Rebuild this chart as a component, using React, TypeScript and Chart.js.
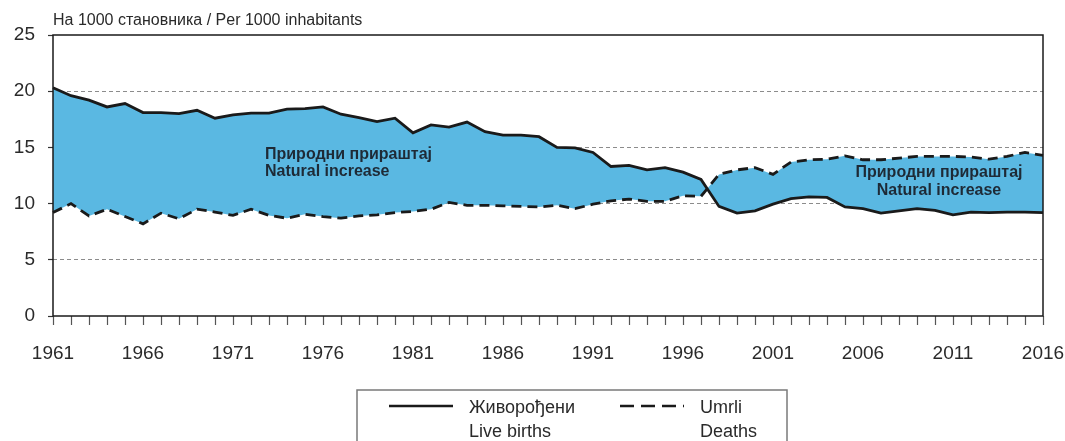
import React, { useEffect, useRef } from "react";
import { Chart, registerables } from "chart.js";

Chart.register(...registerables);

const years: string[] = [];
for (let y = 1961; y <= 2016; y++) years.push(String(y));

const liveBirths = [
  20.3, 19.6, 19.2, 18.6, 18.9, 18.1, 18.1, 18.0, 18.3, 17.6,
  17.9, 18.05, 18.05, 18.4, 18.45, 18.6, 17.95, 17.65, 17.3, 17.6,
  16.3, 17.0, 16.8, 17.25, 16.4, 16.1, 16.1, 15.95, 15.0, 14.95,
  14.55, 13.3, 13.4, 13.0, 13.2, 12.8, 12.15, 9.75, 9.15, 9.35,
  9.95, 10.45, 10.6, 10.55, 9.7, 9.55, 9.15, 9.35, 9.55, 9.4,
  9.0, 9.25, 9.2, 9.25, 9.25, 9.2,
];

const deaths = [
  9.2, 10.0, 8.9, 9.5, 8.85, 8.2, 9.15, 8.65, 9.5, 9.25,
  8.95, 9.5, 8.95, 8.7, 9.05, 8.85, 8.7, 8.9, 9.0, 9.2,
  9.3, 9.5, 10.1, 9.85, 9.85, 9.8, 9.75, 9.7, 9.85, 9.55,
  9.95, 10.25, 10.4, 10.2, 10.2, 10.7, 10.65, 12.6, 13.0, 13.2,
  12.6, 13.7, 13.9, 13.95, 14.25, 13.9, 13.9, 14.05, 14.2, 14.2,
  14.2, 14.15, 13.95, 14.2, 14.55, 14.3,
];

const yTicks = [0, 5, 10, 15, 20, 25];
const unitTitle = "На 1000 становника / Per 1000 inhabitants";
const increaseLabel = ["Природни прираштај", "Natural increase"];
const birthsLegend = ["Живорођени", "Live births"];
const deathsLegend = ["Umrli", "Deaths"];

const FONT = '"Liberation Sans", Arial, sans-serif';
const FILL = "rgb(90,184,226)";

const decorPlugin = {
  id: "decor",
  afterDraw(chart: any) {
    const { ctx, chartArea } = chart;
    const { left, right, top, bottom } = chartArea;
    ctx.save();
    // frame
    ctx.strokeStyle = "#1a1a1a";
    ctx.lineWidth = 1.5;
    ctx.setLineDash([]);
    ctx.strokeRect(left, top, right - left, bottom - top);

    // unit title
    ctx.fillStyle = "#2a2a2a";
    ctx.font = `16px ${FONT}`;
    ctx.textAlign = "left";
    ctx.textBaseline = "alphabetic";
    ctx.fillText(unitTitle, left, 25);

    // annotations
    ctx.fillStyle = "#1e2a36";
    ctx.font = `bold 16px ${FONT}`;
    ctx.textBaseline = "middle";
    ctx.textAlign = "left";
    ctx.fillText(increaseLabel[0], 265, 155);
    ctx.fillText(increaseLabel[1], 265, 172);
    ctx.textAlign = "center";
    ctx.fillText(increaseLabel[0], 939, 173);
    ctx.fillText(increaseLabel[1], 939, 191);

    // legend
    ctx.strokeStyle = "#7a7a7a";
    ctx.lineWidth = 1.5;
    ctx.strokeRect(357, 390, 430, 70);
    ctx.strokeStyle = "#1a1a1a";
    ctx.lineWidth = 2.5;
    ctx.beginPath();
    ctx.moveTo(389, 406);
    ctx.lineTo(453, 406);
    ctx.stroke();
    ctx.setLineDash([14, 7]);
    ctx.beginPath();
    ctx.moveTo(620, 406);
    ctx.lineTo(684, 406);
    ctx.stroke();
    ctx.setLineDash([]);
    ctx.fillStyle = "#2a2a2a";
    ctx.font = `18px ${FONT}`;
    ctx.textAlign = "left";
    ctx.textBaseline = "middle";
    ctx.fillText(birthsLegend[0], 469, 408);
    ctx.fillText(birthsLegend[1], 469, 432);
    ctx.fillText(deathsLegend[0], 700, 408);
    ctx.fillText(deathsLegend[1], 700, 432);
    ctx.restore();
  },
};

export default function App() {
  const ref = useRef<HTMLCanvasElement | null>(null);
  useEffect(() => {
    if (!ref.current) return;
    const chart = new Chart(ref.current, {
      type: "line",
      data: {
        labels: years,
        datasets: [
          {
            label: "Живорођени / Live births",
            data: liveBirths,
            borderColor: "#1a1a1a",
            borderWidth: 2.8,
            pointRadius: 0,
            tension: 0,
            fill: false,
          },
          {
            label: "Umrli / Deaths",
            data: deaths,
            borderColor: "#1a1a1a",
            borderWidth: 2.8,
            borderDash: [10, 6],
            pointRadius: 0,
            tension: 0,
            backgroundColor: FILL,
            fill: { target: 0, above: FILL, below: FILL },
          },
        ],
      },
      options: {
        responsive: false,
        animation: false,
        devicePixelRatio: 1,
        layout: { padding: { left: 0, top: 35, right: 22, bottom: 0 } },
        plugins: { legend: { display: false }, tooltip: { enabled: false } },
        scales: {
          x: {
            type: "category",
            offset: false,
            afterFit: (s: any) => {
              s.height = 125;
              s.paddingLeft = 0;
              s.paddingRight = 0;
            },
            grid: {
              drawOnChartArea: false,
              drawTicks: true,
              tickLength: 9,
              tickColor: "#555",
              tickWidth: 1.2,
            },
            border: { display: false },
            ticks: {
              autoSkip: false,
              maxRotation: 0,
              minRotation: 0,
              padding: 17,
              color: "#2a2a2a",
              font: { family: FONT, size: 19 },
              callback: (_v: any, i: number) => (i % 5 === 0 ? years[i] : ""),
            },
          },
          y: {
            min: 0,
            max: 25,
            afterFit: (s: any) => {
              s.width = 53;
              s.paddingTop = 0;
              s.paddingBottom = 0;
            },
            afterBuildTicks: (s: any) => {
              s.ticks = yTicks.map((v) => ({ value: v }));
            },
            grid: {
              color: (c: any) =>
                c.tick && c.tick.value > 0 && c.tick.value < 25 ? "#8c8c8c" : "rgba(0,0,0,0)",
              lineWidth: 1,
              drawTicks: true,
              tickLength: 5,
              tickColor: "#333",
              tickWidth: 1.2,
            },
            border: { display: false, dash: [4, 3] },
            ticks: {
              padding: 13,
              color: "#2a2a2a",
              font: { family: FONT, size: 19 },
            },
          },
        },
      },
      plugins: [decorPlugin],
    });
    return () => chart.destroy();
  }, []);
  return (
    <div style={{ position: "absolute", left: 0, top: 0, width: 1065, height: 441 }}>
      <canvas ref={ref} width={1065} height={441} style={{ width: 1065, height: 441 }} />
    </div>
  );
}
